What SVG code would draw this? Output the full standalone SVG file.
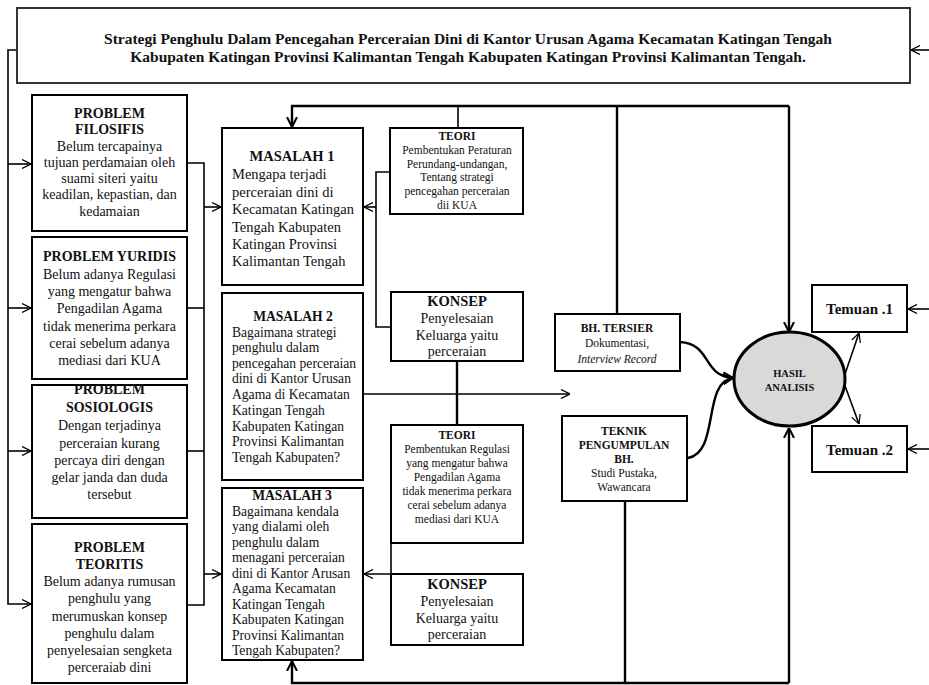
<svg xmlns="http://www.w3.org/2000/svg" width="929" height="685" viewBox="0 0 929 685">
<defs>
<marker id="arr" viewBox="0 0 10 10" refX="10" refY="5" markerWidth="9" markerHeight="10" markerUnits="userSpaceOnUse" orient="auto">
<path d="M0,0 L10,5 L0,10" fill="none" stroke="#000" stroke-width="1.4"/>
</marker>
<marker id="arrB" viewBox="0 0 10 10" refX="10" refY="5" markerWidth="10" markerHeight="12" markerUnits="userSpaceOnUse" orient="auto">
<path d="M0,0 L10,5 L0,10" fill="none" stroke="#000" stroke-width="2"/>
</marker>
</defs>
<style>
.box{fill:#fff;stroke:#000;stroke-width:2}
.t{font-family:"Liberation Serif","Times New Roman",serif;fill:#111;text-anchor:middle}
.l{font-family:"Liberation Serif","Times New Roman",serif;fill:#111;text-anchor:start}
.b{font-weight:bold}
.s14{font-size:14px}
.s13{font-size:13.6px}
.s15{font-size:14.5px}
.s11{font-size:11.5px}
.c{fill:none;stroke:#000;stroke-width:1.6}
.ct{fill:none;stroke:#000;stroke-width:2.4}
</style>
<rect width="929" height="685" fill="#fff"/>

<g id="connectors">
<path class="c" d="M17,50 H8 V604 H31" marker-end="url(#arr)"/>
<path class="c" d="M8,164 H31" marker-end="url(#arr)"/>
<path class="c" d="M8,308 H31" marker-end="url(#arr)"/>
<path class="c" d="M8,451 H31" marker-end="url(#arr)"/>
<path class="c" d="M929,50 H911" marker-end="url(#arr)"/>
<path class="c" d="M929,309 H908" marker-end="url(#arr)"/>
<path class="c" d="M929,449 H908" marker-end="url(#arr)"/>
<path class="c" d="M187,163 H204 V605 H187"/>
<path class="c" d="M187,308 H204"/>
<path class="c" d="M187,451 H204"/>
<path class="c" d="M204,207 H221" marker-end="url(#arr)"/>
<path class="c" d="M204,574 H221" marker-end="url(#arr)"/>
<path class="ct" d="M789,106 H292 V127" marker-end="url(#arrB)"/>
<path class="c" d="M458,106 V128"/>
<path class="ct" d="M617,106 V314"/>
<path class="ct" d="M789,106 V332" marker-end="url(#arrB)"/>
<path class="c" d="M390,172 H376 V327 H391"/>
<path class="c" d="M376,207 H364" marker-end="url(#arr)"/>
<path class="c" d="M363,394 H570" marker-end="url(#arr)"/>
<path class="ct" d="M457,361 V425"/>
<path class="c" d="M391,543 V574 H364" marker-end="url(#arr)"/>
<path class="ct" d="M789,683 H292 V661" marker-end="url(#arrB)"/>
<path class="ct" d="M625,501 V683"/>
<path class="ct" d="M789,683 V428" marker-end="url(#arrB)"/>
<path class="ct" d="M680,342 C712,344 702,376 733,378" marker-end="url(#arrB)"/>
<path class="ct" d="M688,458 C720,452 702,382 733,378" marker-end="url(#arrB)"/>
<path class="c" d="M844,377 L859,333" marker-end="url(#arr)"/>
<path class="c" d="M844,383 L859,424" marker-end="url(#arr)"/>
</g>

<g id="title">
<rect x="17" y="8" width="893" height="75" fill="#fff" stroke="#333" stroke-width="2"/>
<text class="t b" x="468" y="44" style="font-size:15.5px">Strategi Penghulu Dalam Pencegahan Perceraian Dini di Kantor Urusan Agama Kecamatan Katingan Tengah</text>
<text class="t b" x="468" y="62" style="font-size:15.5px">Kabupaten Katingan Provinsi Kalimantan Tengah Kabupaten Katingan Provinsi Kalimantan Tengah.</text>
</g>

<g id="problem-filosofis">
<rect class="box" x="32" y="95" width="155" height="136"/>
<text class="t b s14" x="109.5" y="118">PROBLEM</text>
<text class="t b s14" x="109.5" y="134">FILOSIFIS</text>
<text class="t s14" x="109.5" y="151">Belum tercapainya</text>
<text class="t s14" x="109.5" y="167">tujuan perdamaian oleh</text>
<text class="t s14" x="109.5" y="183">suami siteri yaitu</text>
<text class="t s14" x="109.5" y="199">keadilan, kepastian, dan</text>
<text class="t s14" x="109.5" y="216">kedamaian</text>
</g>

<g id="problem-yuridis">
<rect class="box" x="32" y="237" width="155" height="142"/>
<text class="t b s14" x="109.5" y="261">PROBLEM YURIDIS</text>
<text class="t s14" x="109.5" y="279">Belum adanya Regulasi</text>
<text class="t s14" x="109.5" y="296">yang mengatur bahwa</text>
<text class="t s14" x="109.5" y="313">Pengadilan Agama</text>
<text class="t s14" x="109.5" y="331">tidak menerima perkara</text>
<text class="t s14" x="109.5" y="348">cerai sebelum adanya</text>
<text class="t s14" x="109.5" y="365">mediasi dari KUA</text>
</g>

<g id="problem-sosiologis">
<rect class="box" x="32" y="385" width="155" height="133"/>
<text class="t b s14" x="109.5" y="394">PROBLEM</text>
<text class="t b s14" x="109.5" y="412">SOSIOLOGIS</text>
<text class="t s14" x="109.5" y="430">Dengan terjadinya</text>
<text class="t s14" x="109.5" y="448">perceraian kurang</text>
<text class="t s14" x="109.5" y="465">percaya diri dengan</text>
<text class="t s14" x="109.5" y="482">gelar janda dan duda</text>
<text class="t s14" x="109.5" y="499">tersebut</text>
</g>

<g id="problem-teoritis">
<rect class="box" x="32" y="524" width="155" height="159"/>
<text class="t b s14" x="109.5" y="552">PROBLEM</text>
<text class="t b s14" x="109.5" y="569">TEORITIS</text>
<text class="t s14" x="109.5" y="586">Belum adanya rumusan</text>
<text class="t s14" x="109.5" y="603">penghulu yang</text>
<text class="t s14" x="109.5" y="621">merumuskan  konsep</text>
<text class="t s14" x="109.5" y="638">penghulu dalam</text>
<text class="t s14" x="109.5" y="655">penyelesaian sengketa</text>
<text class="t s14" x="109.5" y="672">perceraiab dini</text>
</g>

<g id="masalah-1">
<rect class="box" x="222" y="128" width="141" height="157"/>
<text class="t b s15" x="292" y="161">MASALAH 1</text>
<text class="l s15" x="232" y="179">Mengapa terjadi</text>
<text class="l s15" x="232" y="197">perceraian dini di</text>
<text class="l s15" x="232" y="214">Kecamatan Katingan</text>
<text class="l s15" x="232" y="232">Tengah Kabupaten</text>
<text class="l s15" x="232" y="249">Katingan Provinsi</text>
<text class="l s15" x="232" y="266">Kalimantan Tengah</text>
</g>

<g id="masalah-2">
<rect class="box" x="222" y="293" width="141" height="187"/>
<text class="t b s13" x="293" y="321">MASALAH 2</text>
<text class="l s13" x="232" y="337">Bagaimana strategi</text>
<text class="l s13" x="232" y="352">penghulu dalam</text>
<text class="l s13" x="232" y="368">pencegahan perceraian</text>
<text class="l s13" x="232" y="383">dini di Kantor Urusan</text>
<text class="l s13" x="232" y="399">Agama di Kecamatan</text>
<text class="l s13" x="232" y="415">Katingan Tengah</text>
<text class="l s13" x="232" y="431">Kabupaten Katingan</text>
<text class="l s13" x="232" y="446">Provinsi Kalimantan</text>
<text class="l s13" x="232" y="462">Tengah Kabupaten?</text>
</g>

<g id="masalah-3">
<rect class="box" x="222" y="488" width="141" height="172"/>
<text class="t b s13" x="292" y="500">MASALAH 3</text>
<text class="l s13" x="232" y="516">Bagaimana kendala</text>
<text class="l s13" x="232" y="531">yang dialami oleh</text>
<text class="l s13" x="232" y="547">penghulu dalam</text>
<text class="l s13" x="232" y="562">menagani perceraian</text>
<text class="l s13" x="232" y="578">dini di Kantor Arusan</text>
<text class="l s13" x="232" y="593">Agama Kecamatan</text>
<text class="l s13" x="232" y="609">Katingan Tengah</text>
<text class="l s13" x="232" y="624">Kabupaten Katingan</text>
<text class="l s13" x="232" y="640">Provinsi Kalimantan</text>
<text class="l s13" x="232" y="655">Tengah Kabupaten?</text>
</g>

<g id="teori-1">
<rect class="box" x="390" y="128" width="133" height="86"/>
<text class="t b s11" x="457" y="140">TEORI</text>
<text class="t s11" x="457" y="154">Pembentukan Peraturan</text>
<text class="t s11" x="457" y="168">Perundang-undangan,</text>
<text class="t s11" x="457" y="181">Tentang strategi</text>
<text class="t s11" x="457" y="195">pencegahan perceraian</text>
<text class="t s11" x="457" y="209">dii KUA</text>
</g>

<g id="konsep-1">
<rect class="box" x="391" y="292" width="132" height="69"/>
<text class="t b s15" x="457" y="306">KONSEP</text>
<text class="t s14" x="457" y="323">Penyelesaian</text>
<text class="t s14" x="457" y="340">Keluarga yaitu</text>
<text class="t s14" x="457" y="356">perceraian</text>
</g>

<g id="teori-2">
<rect class="box" x="391" y="425" width="132" height="118"/>
<text class="t b s11" x="457" y="439">TEORI</text>
<text class="t s11" x="457" y="453">Pembentukan Regulasi</text>
<text class="t s11" x="457" y="467">yang mengatur bahwa</text>
<text class="t s11" x="457" y="481">Pengadilan Agama</text>
<text class="t s11" x="457" y="495">tidak menerima perkara</text>
<text class="t s11" x="457" y="509">cerai sebelum adanya</text>
<text class="t s11" x="457" y="523">mediasi dari KUA</text>
</g>

<g id="konsep-2">
<rect class="box" x="391" y="574" width="132" height="71"/>
<text class="t b s15" x="457" y="589">KONSEP</text>
<text class="t s14" x="457" y="606">Penyelesaian</text>
<text class="t s14" x="457" y="623">Keluarga yaitu</text>
<text class="t s14" x="457" y="639">perceraian</text>
</g>

<g id="bh-tersier">
<rect class="box" x="555" y="314" width="125" height="57"/>
<text class="t b s11" x="617" y="332">BH. TERSIER</text>
<text class="t s11" x="617" y="347">Dokumentasi,</text>
<text class="t s11" x="617" y="363" font-style="italic">Interview Record</text>
</g>

<g id="teknik">
<rect class="box" x="562" y="416" width="125" height="85"/>
<text class="t b s11" x="624" y="435">TEKNIK</text>
<text class="t b s11" x="624" y="449">PENGUMPULAN</text>
<text class="t b s11" x="624" y="463">BH.</text>
<text class="t s11" x="624" y="477">Studi Pustaka,</text>
<text class="t s11" x="624" y="491">Wawancara</text>
</g>

<g id="hasil-analisis">
<ellipse cx="789.5" cy="379" rx="55.5" ry="47" fill="#d9d9d9" stroke="#000" stroke-width="3"/>
<text class="t b" x="789.5" y="377" style="font-size:10.5px">HASIL</text>
<text class="t b" x="789.5" y="391" style="font-size:10.5px">ANALISIS</text>
</g>

<g id="temuan-1">
<rect class="box" x="812" y="285" width="95" height="47"/>
<text class="t b" x="859.5" y="314" style="font-size:15px">Temuan .1</text>
</g>

<g id="temuan-2">
<rect class="box" x="812" y="426" width="95" height="46"/>
<text class="t b" x="859.5" y="455" style="font-size:15px">Temuan .2</text>
</g>
</svg>
